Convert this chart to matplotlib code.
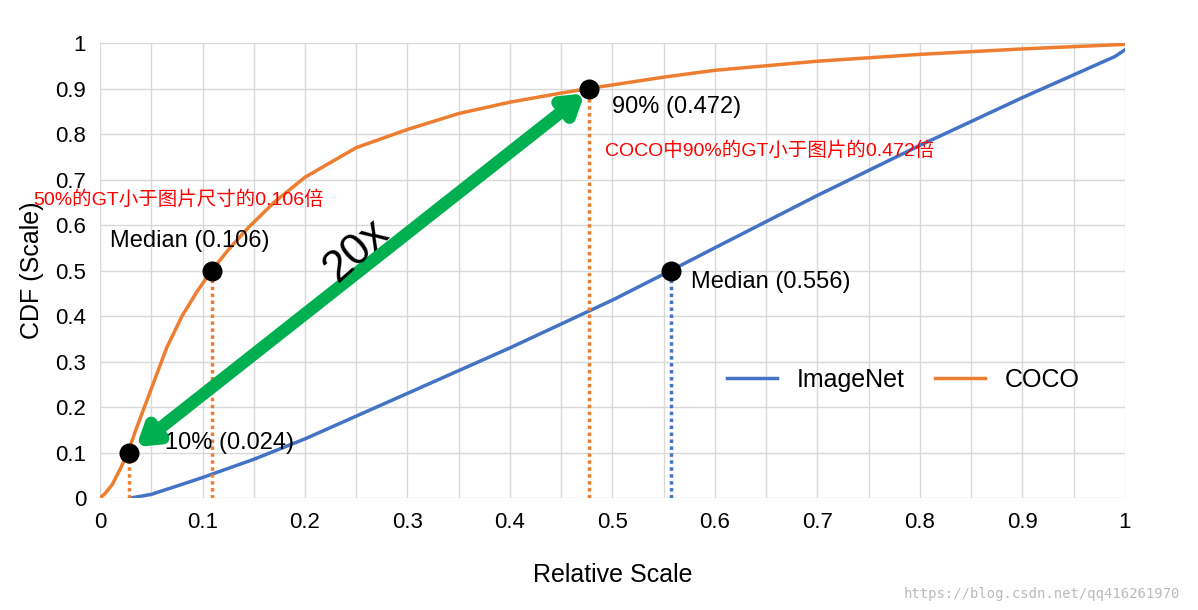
import matplotlib.pyplot as plt
import numpy as np

plt.rcParams['font.family'] = ['Liberation Sans', 'Noto Sans CJK SC', 'DejaVu Sans']

coco_x = [0, 0.005, 0.012, 0.02, 0.028, 0.035, 0.045, 0.055, 0.065, 0.08, 0.095, 0.109, 0.125, 0.145, 0.17, 0.2, 0.25, 0.3, 0.35, 0.4, 0.45, 0.477, 0.55, 0.6, 0.7, 0.8, 0.9, 0.95, 1.0]
coco_y = [0, 0.01, 0.03, 0.065, 0.105, 0.15, 0.21, 0.27, 0.33, 0.4, 0.455, 0.5, 0.545, 0.595, 0.65, 0.705, 0.77, 0.81, 0.845, 0.87, 0.89, 0.9, 0.925, 0.94, 0.96, 0.975, 0.987, 0.992, 0.997]
imnet_x = [0.03, 0.05, 0.08, 0.1, 0.15, 0.2, 0.3, 0.4, 0.5, 0.557, 0.6, 0.7, 0.8, 0.9, 0.97, 0.99, 1.0]
imnet_y = [0, 0.008, 0.03, 0.045, 0.085, 0.13, 0.23, 0.33, 0.435, 0.5, 0.55, 0.665, 0.775, 0.88, 0.95, 0.97, 0.985]

pts_x = [0.028, 0.109, 0.477, 0.557]
pts_y = [0.1, 0.5, 0.9, 0.5]
pt_colors = ['#ED7D31', '#ED7D31', '#ED7D31', '#4472C4']
pt_labels = ['10% (0.024)', 'Median (0.106)', '90% (0.472)', 'Median (0.556)']

fig = plt.figure(figsize=(11.98, 6.1), dpi=100)
ax = fig.add_axes([0.0835, 0.1836, 0.8555, 0.7459])
ax.set_xlim(0, 1)
ax.set_ylim(0, 1)
ax.set_xticks(np.arange(0, 1.01, 0.05))
ax.set_xticklabels(['0' if i == 0 else ('1' if i == 20 else (f'{i*0.05:.1f}' if i % 2 == 0 else '')) for i in range(21)])
ax.set_yticks(np.arange(0, 1.01, 0.1))
ax.set_yticklabels(['0'] + [f'{v:.1f}' for v in np.arange(0.1, 0.95, 0.1)] + ['1'])
ax.tick_params(length=0, labelsize=16, pad=10)
ax.grid(True, color='#D9D9D9', linewidth=1)
for s in ax.spines.values():
    s.set_visible(False)
ax.set_axisbelow(True)

ax.plot(imnet_x, imnet_y, color='#4472C4', lw=2.5, label='ImageNet')
ax.plot(coco_x, coco_y, color='#ED7D31', lw=2.5, label='COCO')

for x, y, c in zip(pts_x, pts_y, pt_colors):
    ax.plot([x, x], [0, y], color=c, lw=2.5, ls=(0, (1, 1)))
ax.scatter(pts_x, pts_y, s=180, color='black', zorder=5)

ax.text(0.063, 0.12, pt_labels[0], fontsize=17, va='center')
ax.text(0.01, 0.565, pt_labels[1], fontsize=17, va='center')
ax.text(0.5, 0.86, pt_labels[2], fontsize=17, va='center')
ax.text(0.577, 0.475, pt_labels[3], fontsize=17, va='center')

ax.text(-0.065, 0.655, '50%的GT小于图片尺寸的0.106倍', color='red', fontsize=14, va='center')
ax.text(0.493, 0.763, 'COCO中90%的GT小于图片的0.472倍', color='red', fontsize=14, va='center')

ax.annotate('', xy=(0.033, 0.108), xytext=(0.475, 0.893),
            arrowprops=dict(arrowstyle='<|-|>,head_length=1.1,head_width=0.7', color='#00B050', lw=9))
ax.text(0.25, 0.545, '20x', fontsize=32, rotation=42, ha='center', va='center')

ax.legend(loc='center left', bbox_to_anchor=(0.59, 0.26), ncol=2, frameon=False,
          handlelength=2, columnspacing=1.2, prop={'size': 18})

ax.set_xlabel('Relative Scale', fontsize=18, labelpad=22)
ax.set_ylabel('CDF (Scale)', fontsize=18, labelpad=8)
fig.text(0.985, 0.02, 'https://blog.csdn.net/qq416261970', ha='right', fontsize=10, color='#BBBBBB', family='DejaVu Sans Mono')

fig.savefig('out.png', dpi=100)
